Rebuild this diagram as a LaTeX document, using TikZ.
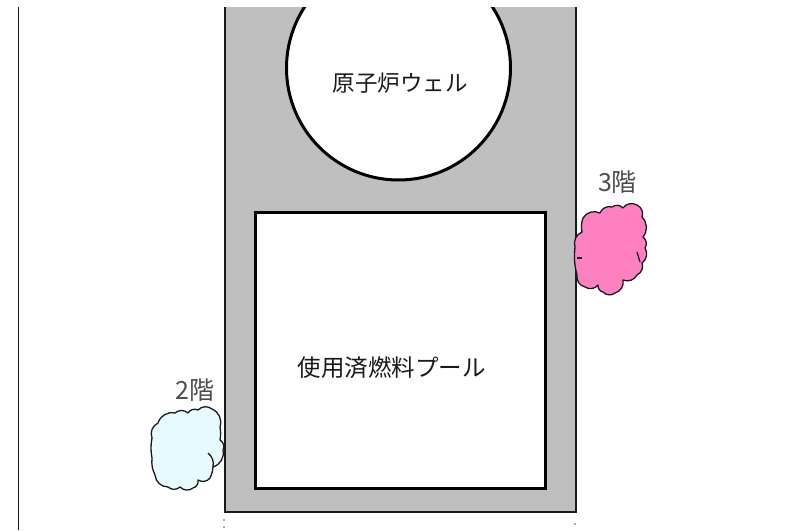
\documentclass[tikz,border=0pt]{standalone}
\usepackage{fontspec}
\newfontfamily\cjk{Noto Sans CJK JP}[Scale=1]
\definecolor{wallgray}{HTML}{BFBFBF}
\definecolor{pinkblob}{HTML}{FF80C0}
\definecolor{blueblob}{HTML}{E6FAFF}
\definecolor{inkline}{HTML}{1A1A1A}
\tikzset{
  wall/.style={draw=inkline,line width=1.8pt,fill=wallgray},
  opening/.style={draw=black,line width=3pt,fill=white},
  blob/.style={draw=inkline,line width=1.3pt,line join=round},
  scallop/.style={bend left=42},
  biglabel/.style={inner sep=0pt,text=inkline,font=\cjk\fontsize{22.5}{24}\selectfont},
  pumplabel/.style={inner sep=0pt,text=inkline,font=\cjk\fontsize{23.5}{25}\selectfont},
  floorlabel/.style={inner sep=0pt,text=black!70,font=\cjk\fontsize{25}{27}\selectfont},
  dotmark/.style={fill=black!65,inner sep=0pt,minimum size=1.8pt,circle}
}
\begin{document}
\begin{tikzpicture}[x=1pt,y=-1pt]
\useasboundingbox[fill=white] (0,0) rectangle (799,530);
% left rule
\draw[draw=inkline,line width=1.7pt] (18.5,7) -- (18.5,530);
% wall
\path[fill=wallgray] (225,7) rectangle (576,512);
\draw[wall,fill=none] (225,7) -- (225,512) -- (576,512) -- (576,7);
% reactor well (circle cut by the top edge)
\begin{scope}
\clip (200,7) rectangle (600,300);
\draw[opening] (398.5,68) circle[radius=112];
\end{scope}
% pool
\draw[opening] (255,212) rectangle (545,488);
\node[biglabel] (well) at (400,83) {原子炉ウェル};
\node[pumplabel] (pool) at (391.5,368) {使用済燃料プール};
% pink blob
\draw[blob,fill=pinkblob] (583,218) to[scallop] (600,213) to[scallop] (612,207) to[scallop] (623,208)
 to[scallop] (637,205) to[scallop] (642,217) to[scallop] (643,237) to[scallop] (645,248)
 to[scallop] (642,263) to[scallop] (637,275) to[scallop] (623,280) to[scallop] (615,293)
 to[scallop] (603,292) to[scallop] (598,285) to[scallop] (585,287) to[scallop] (577,275)
 to[bend left=10] (575,247) to[scallop] (582,232) to[bend left=15] cycle;
\draw[blob] (577,258) -- (582,258);
\draw[blob] (637,252) -- (640,262);
% blue blob
\draw[blob,fill=blueblob] (158,423) to[scallop] (175,413) to[scallop] (188,413) to[scallop] (198,410)
 to[scallop] (212,409) to[scallop] (220,427) to[bend left=10] (220,440) to[scallop] (223,450)
 to[scallop] (213,467) to[bend left=10] (210,478) to[scallop] (198,480) to[scallop] (193,488)
 to[scallop] (180,487) to[scallop] (168,487) to[scallop] (155,475) to[bend left=15] (152,458)
 to[bend left=10] (152,438) to[scallop] cycle;
\draw[blob] (208,453) to[bend left=30] (213,467);
% floor labels
\node[floorlabel] (f3) at (617.5,182) {3階};
\node[floorlabel] (f2) at (195,390) {2階};
% dots
\node[dotmark] (d1) at (224,520) {};
\node[dotmark] (d2) at (224,527) {};
\node[dotmark] (d3) at (575,524) {};
\end{tikzpicture}
\end{document}
